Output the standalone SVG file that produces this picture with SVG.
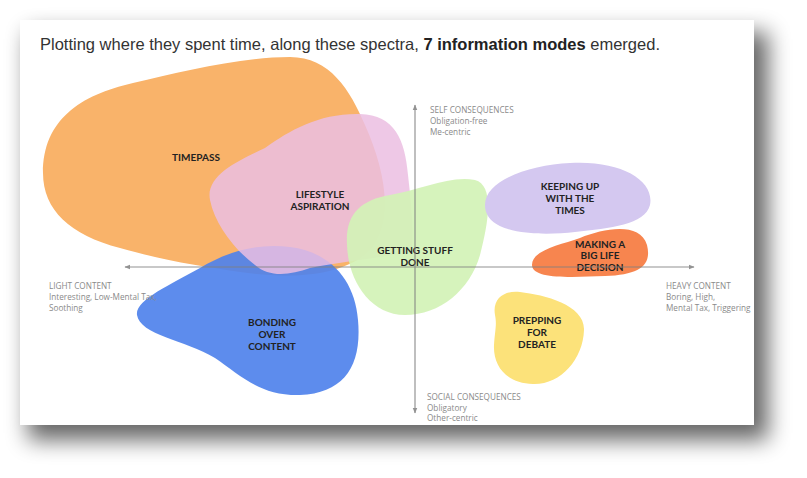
<svg xmlns="http://www.w3.org/2000/svg" width="807" height="478" viewBox="0 0 807 478">
  <defs>
    <filter id="shadow" x="-20%" y="-20%" width="140%" height="140%">
      <feGaussianBlur stdDeviation="11"/>
    </filter>
    <marker id="arr" viewBox="0 0 10 10" refX="9" refY="5" markerWidth="6" markerHeight="6" orient="auto-start-reverse" markerUnits="userSpaceOnUse">
      <path d="M0,1 L10,5 L0,9 Z" fill="#808080"/>
    </marker>
  </defs>
  <style>
    .lbl { font-family: Lato, "Open Sans", "Liberation Sans", sans-serif; font-weight: 700; font-size: 10px; fill: #222; text-anchor: middle; }
    .ax { font-family: "Open Sans", "Liberation Sans", sans-serif; font-size: 8.2px; fill: #8a8a8a; }
    .axis { stroke: #808080; stroke-width: 1.2; fill: none; }
    .ttl { font-family: "Liberation Sans", Arial, sans-serif; font-size: 16.5px; fill: #333; }
  </style>
  <rect width="807" height="478" fill="#ffffff"/>
  <rect x="28" y="32" width="740" height="408" fill="#000" opacity="0.6" filter="url(#shadow)"/>
  <rect x="20" y="20" width="734" height="405" fill="#ffffff"/>

  <text class="ttl" x="40" y="50">Plotting where they spent time, along these spectra, <tspan font-weight="700" fill="#222">7 information modes</tspan> emerged.</text>

  <g id="timepass">
    <path d="M43,173 C43,120 80,95 133,83 C180,72 240,57 290,57 C330,57 350,90 365,125 C385,170 395,220 370,250 C340,280 280,278 240,272 C200,266 170,262 120,248 C70,235 43,210 43,173 Z" fill="#F9B36A"/>
    <text class="lbl" x="196" y="161">TIMEPASS</text>
  </g>
  <g id="bonding">
    <path d="M137,315 C135,300 170,285 200,268 C230,250 260,243 290,247 C330,252 355,280 358,320 C362,365 345,393 300,395 C260,396 240,375 215,358 C185,340 140,335 137,315 Z" fill="#4F82EC" opacity="0.92"/>
    <text class="lbl" x="272" y="326">BONDING</text>
    <text class="lbl" x="272" y="338">OVER</text>
    <text class="lbl" x="272" y="350">CONTENT</text>
  </g>
  <g id="lifestyle">
    <path d="M210,200 C205,175 240,160 265,148 C290,130 320,113 360,114 C395,115 405,140 408,175 C412,210 415,245 410,252 C380,258 340,262 310,268 C290,275 270,278 255,265 C235,250 215,225 210,200 Z" fill="#EBBEE2" opacity="0.85"/>
    <text class="lbl" x="320" y="198">LIFESTYLE</text>
    <text class="lbl" x="320" y="210">ASPIRATION</text>
  </g>
  <g id="getting-stuff-done">
    <path d="M347,245 C345,215 360,200 390,195 C420,190 450,175 475,180 C495,185 488,225 480,255 C470,290 440,315 405,315 C370,315 348,280 347,245 Z" fill="#D2F2B6" opacity="0.92"/>
    <text class="lbl" x="415" y="254">GETTING STUFF</text>
    <text class="lbl" x="415" y="266">DONE</text>
  </g>
  <g id="keeping-up">
    <path d="M485,205 C485,180 530,165 570,163 C620,160 655,180 650,205 C645,225 610,228 575,232 C540,236 485,235 485,205 Z" fill="#D4C8F0"/>
    <text class="lbl" x="570" y="190">KEEPING UP</text>
    <text class="lbl" x="570" y="202">WITH THE</text>
    <text class="lbl" x="570" y="214">TIMES</text>
  </g>
  <g id="big-life-decision">
    <path d="M532,265 C532,250 560,245 580,238 C605,228 640,222 647,245 C652,265 640,275 605,276 C575,277 532,280 532,265 Z" fill="#F7854F"/>
    <text class="lbl" x="600" y="247.5">MAKING A</text>
    <text class="lbl" x="600" y="259">BIG  LIFE</text>
    <text class="lbl" x="600" y="271">DECISION</text>
  </g>
  <g id="prepping">
    <path d="M495,315 C492,298 505,290 520,292 C545,295 585,305 584,330 C583,360 560,385 533,384 C505,383 493,365 494,345 C495,330 497,325 495,315 Z" fill="#FCE27A"/>
    <text class="lbl" x="537" y="324">PREPPING</text>
    <text class="lbl" x="537" y="336">FOR</text>
    <text class="lbl" x="537" y="348">DEBATE</text>
  </g>

  <g id="connectors" opacity="0.85">
    <line class="axis" x1="125" y1="267" x2="694" y2="267" marker-start="url(#arr)" marker-end="url(#arr)"/>
    <line class="axis" x1="415" y1="105" x2="415" y2="413" marker-start="url(#arr)" marker-end="url(#arr)"/>
  </g>

  <g id="axis-labels">
    <text class="ax" x="430" y="113">SELF CONSEQUENCES</text>
    <text class="ax" x="430" y="124">Obligation-free</text>
    <text class="ax" x="430" y="135">Me-centric</text>
    <text class="ax" x="49" y="289">LIGHT CONTENT</text>
    <text class="ax" x="49" y="300">Interesting, Low-Mental Tax,</text>
    <text class="ax" x="49" y="311">Soothing</text>
    <text class="ax" x="666" y="289">HEAVY CONTENT</text>
    <text class="ax" x="666" y="300">Boring, High,</text>
    <text class="ax" x="666" y="311">Mental Tax, Triggering</text>
    <text class="ax" x="427" y="400">SOCIAL CONSEQUENCES</text>
    <text class="ax" x="427" y="411">Obligatory</text>
    <text class="ax" x="427" y="421">Other-centric</text>
  </g>
</svg>
